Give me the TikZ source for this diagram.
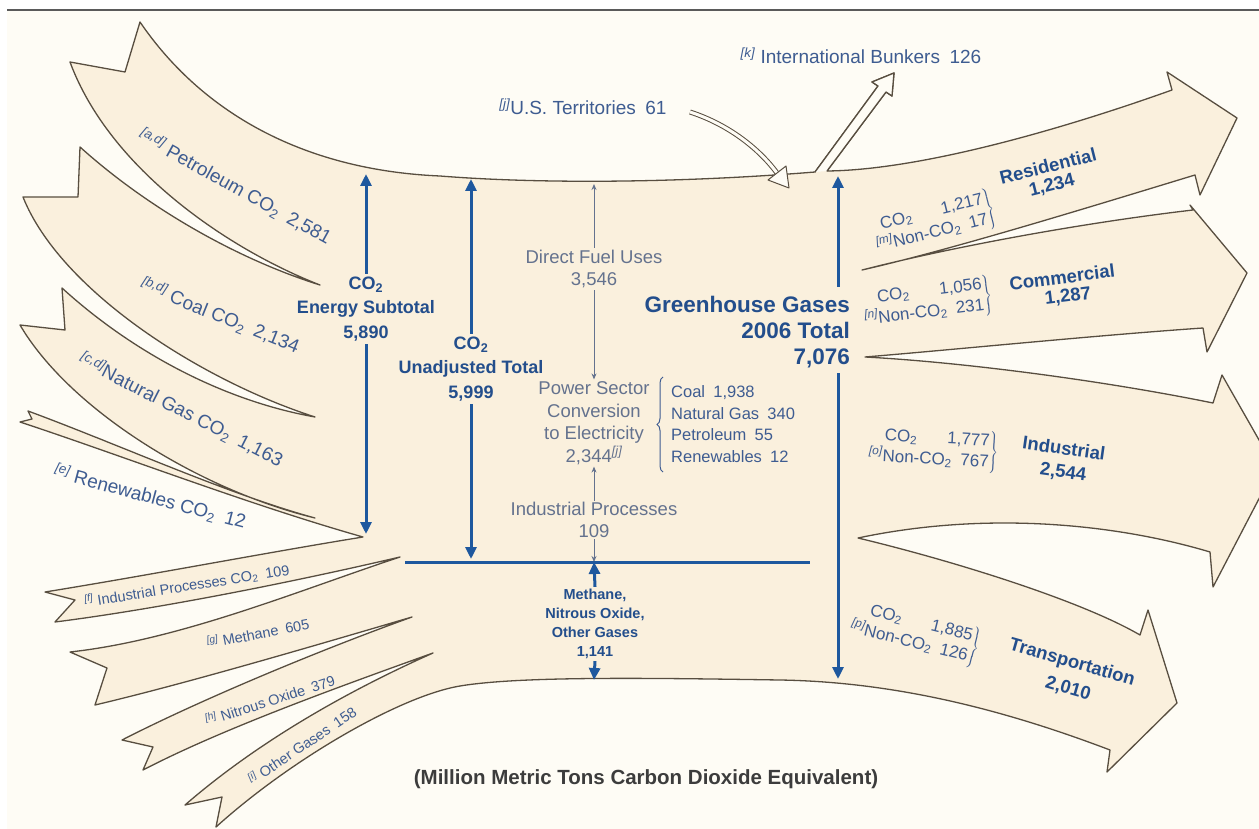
\documentclass[tikz,border=0pt]{standalone}
\usepackage{fontspec}
\setmainfont{Liberation Sans}
\usetikzlibrary{arrows.meta,decorations.pathreplacing}
\definecolor{bg}{RGB}{254,252,245}
\definecolor{band}{RGB}{250,240,221}
\definecolor{edge}{RGB}{88,78,64}
\definecolor{lbl}{RGB}{62,92,145}
\definecolor{boldb}{RGB}{35,78,140}
\definecolor{grayb}{RGB}{100,114,142}
\definecolor{arr}{RGB}{30,88,158}
\definecolor{dk}{RGB}{60,60,60}
\definecolor{frame}{RGB}{90,90,90}
\newcommand{\cotwo}{CO\textsubscript{2}}
\newcommand{\fnote}[1]{\textsuperscript{\itshape[#1]}}
\newcommand{\rowblock}[3]{$\left.\begin{tabular}{@{}r@{}}\cotwo\hspace{30pt}#1\\ \llap{\fnote{#3}}Non-\cotwo\enspace #2\end{tabular}\right\}$}
\begin{document}
\begin{tikzpicture}[x=1pt,y=-1pt,
  lbl/.style={text=lbl, inner sep=1pt, font=\fontsize{19}{23}\selectfont},
  lblsm/.style={text=lbl, inner sep=1pt, font=\fontsize{14.5}{17}\selectfont},
  rrow/.style={text=lbl, inner sep=1pt, font=\fontsize{17}{20}\selectfont},
  rbold/.style={text=boldb, inner sep=1pt, font=\fontsize{18.5}{22}\selectfont\bfseries},
  ctr/.style={text=grayb, align=center, inner sep=2pt, font=\fontsize{18.5}{22.5}\selectfont},
  boldc/.style={text=boldb, align=center, inner sep=3pt, font=\fontsize{18}{24.5}\selectfont\bfseries},
  bigarr/.style={draw=arr, line width=3pt, -{Triangle[length=12pt,width=11pt]}},
  thinarr/.style={draw=grayb, line width=1pt, -{Stealth[length=6pt,width=5pt]}},
  brc/.style={draw=lbl, line width=1pt, decorate, decoration={brace, amplitude=5pt}},
  outline/.style={draw=edge, line width=1.3pt, line join=round}]
\useasboundingbox (0,0) rectangle (1259,829);
\clip (0,0) rectangle (1259,829);
\fill[white] (0,0) rectangle (1259,829);
\fill[bg] (7,11) rectangle (1259,829);
\draw[draw=frame, line width=1.5pt] (7,10) -- (1259,10);

% main flow body
\path[fill=band, outline] (140,22)
 .. controls (200,110) and (300,170) .. (440,176)
 .. controls (540,184) and (680,183) .. (815,172)
 -- (878,86) -- (872,82) -- (894,73) -- (892,96) -- (886,92) -- (827,171)
 .. controls (920,170) and (1060,130) .. (1172,90)
 -- (1167,72) -- (1237,118) -- (1200,195) -- (1195,175)
 .. controls (1080,210) and (950,250) .. (862,270)
 .. controls (960,245) and (1090,222) .. (1193,210)
 -- (1190,205) -- (1247,273) -- (1207,352) -- (1203,328)
 .. controls (1100,335) and (950,350) .. (865,357)
 .. controls (960,362) and (1100,380) .. (1213,403)
 -- (1222,375) -- (1275,468) -- (1213,587) -- (1210,552)
 .. controls (1120,525) and (990,510) .. (858,538)
 .. controls (950,560) and (1080,600) .. (1140,635)
 -- (1148,610) -- (1177,703) -- (1107,772) -- (1110,750)
 .. controls (1010,712) and (900,682) .. (780,680)
 .. controls (650,678) and (520,676) .. (460,686)
 .. controls (400,696) and (290,760) .. (216,827)
 -- (222,797) -- (185,805)
 .. controls (260,740) and (350,690) .. (433,653)
 .. controls (330,690) and (220,730) .. (143,770)
 -- (153,747) -- (122,740)
 .. controls (200,700) and (320,650) .. (412,617)
 .. controls (300,650) and (180,685) .. (95,705)
 -- (107,668) -- (70,652)
 .. controls (180,640) and (300,590) .. (400,557)
 .. controls (280,585) and (150,610) .. (55,622)
 -- (75,600) -- (45,592)
 .. controls (150,575) and (270,552) .. (363,537)
 .. controls (250,505) and (120,455) .. (20,422)
 -- (32,419) -- (28,411)
 .. controls (120,445) and (230,495) .. (315,518)
 .. controls (200,490) and (70,410) .. (20,325)
 -- (65,330) -- (62,288)
 .. controls (130,350) and (220,400) .. (315,417)
 .. controls (200,380) and (60,290) .. (23,197)
 -- (78,197) -- (80,147)
 .. controls (150,210) and (240,260) .. (320,285)
 .. controls (230,250) and (110,170) .. (70,62)
 -- (125,72) -- cycle;

% bunkers arrow interior
\fill[bg] (815,172) -- (878,86) -- (872,82) -- (894,73) -- (892,96) -- (886,92) -- (827,171) -- cycle;
\draw[outline] (815,172) -- (878,86) -- (872,82) -- (894,73) -- (892,96) -- (886,92) -- (827,171);

% top labels
\node[lbl] (bunk) at (861,56) {\fnote{k} International Bunkers\enspace 126};
\node[lbl] (terr) at (583,107) {\fnote{j}U.S. Territories\enspace 61};
\coordinate (terrS) at (690,112);
\coordinate (terrE) at (777,173);
\draw[draw=edge, line width=1pt, double=bg, double distance=3pt] (terrS) .. controls (730,125) and (760,150) .. (terrE);
\filldraw[fill=bg, draw=edge, line width=1pt, line join=round] (768,180) -- (789,188) -- (786,166) -- cycle;

% left band labels
\node[lbl, rotate=-29] (petl) at (235,187) {\fnote{a,d} Petroleum \cotwo\enspace 2,581};
\node[lbl, rotate=-22] (coall) at (220,316) {\fnote{b,d} Coal \cotwo\enspace 2,134};
\node[lbl, rotate=-27] (ngl) at (181,410) {\fnote{c,d}Natural Gas \cotwo\enspace 1,163};
\node[lbl, rotate=-15] (renl) at (150,497) {\fnote{e} Renewables \cotwo\enspace 12};
\node[lblsm, rotate=9] (ipl) at (187,586) {\fnote{f} Industrial Processes \cotwo\enspace 109};
\node[lblsm, rotate=11] (mel) at (258,633) {\fnote{g} Methane\enspace 605};
\node[lblsm, rotate=18] (nol) at (270,700) {\fnote{h} Nitrous Oxide\enspace 379};
\node[lblsm, rotate=34] (ogl) at (302,745) {\fnote{i} Other Gases\enspace 158};

% energy subtotal
\node[boldc] (esub) at (366,309) {\cotwo\\Energy Subtotal\\5,890};
\coordinate (esubT) at (366,174);
\coordinate (esubB) at (366,534);
\draw[bigarr] (esub.north) -- (esubT);
\draw[bigarr] (esub.south) -- (esubB);

% unadjusted total
\node[boldc] (unadj) at (471,369) {\cotwo\\Unadjusted Total\\5,999};
\coordinate (unT) at (471,179);
\coordinate (unB) at (471,559);
\draw[bigarr] (unadj.north) -- (unT);
\draw[bigarr] (unadj.south) -- (unB);

% centre column
\node[ctr] (dfu) at (594,269) {Direct Fuel Uses\\3,546};
\coordinate (dfuT) at (594,184);
\draw[thinarr] (dfu.north) -- (dfuT);
\node[ctr] (ps) at (594,423) {Power Sector\\Conversion\\to Electricity\\2,344\fnote{j}};
\draw[thinarr] (dfu.south) -- (ps.north);
\node[text=lbl, align=left, anchor=west, inner sep=0pt, font=\fontsize{16.5}{21.5}\selectfont] (pl) at (671,424) {Coal\enspace 1,938\\Natural Gas\enspace 340\\Petroleum\enspace 55\\Renewables\enspace 12};
\coordinate (brT) at (663,377);
\coordinate (brB) at (663,472);
\draw[brc, decoration={brace, amplitude=6pt}] (brB) -- (brT);
\node[ctr, inner sep=1pt] (ip) at (594,520) {Industrial Processes\\109};
\draw[thinarr] (ip.north) -- (ps.south);
\coordinate (hmid) at (594,562);
\coordinate (hL) at (405,562);
\coordinate (hR) at (810,562);
\draw[thinarr] (ip.south) -- (hmid);
\draw[draw=arr, line width=3pt] (hL) -- (hR);

\node[text=boldb, align=center, inner sep=2pt, font=\fontsize{14.5}{19}\selectfont\bfseries] (meth) at (595,624) {Methane,\\Nitrous Oxide,\\Other Gases\\1,141};
\coordinate (mbot) at (594,680);
\draw[bigarr] (meth.north) -- (hmid);
\draw[bigarr] (meth.south) -- (mbot);

% greenhouse total
\node[text=boldb, align=right, anchor=east, inner sep=0pt, font=\fontsize{22.5}{26}\selectfont\bfseries] (ghg) at (850,332) {Greenhouse Gases\\2006 Total\\7,076};
\coordinate (gT) at (838,176);
\coordinate (gA) at (838,287);
\coordinate (gB) at (838,373);
\coordinate (gBot) at (838,679);
\draw[bigarr] (gA) -- (gT);
\draw[bigarr] (gB) -- (gBot);

% sector labels
\node[rrow, rotate=14] (resrows) at (938,222) {\rowblock{1,217}{17}{m}};
\node[rbold, rotate=14] (resname) at (1048,166) {Residential};
\node[rbold, rotate=14] (resval) at (1052,186) {1,234};

\node[rrow, rotate=7] (comrows) at (934,302) {\rowblock{1,056}{231}{n}};
\node[rbold, rotate=7] (comname) at (1062,277) {Commercial};
\node[rbold, rotate=7] (comval) at (1068,297) {1,287};

\node[rrow, rotate=-3] (indrows) at (940,450) {\rowblock{1,777}{767}{o}};
\node[rbold, rotate=-8] (indname) at (1064,448) {Industrial};
\node[rbold, rotate=-8] (indval) at (1063,473) {2,544};

\node[rrow, rotate=-14] (trarows) at (922,635) {\rowblock{1,885}{126}{p}};
\node[rbold, rotate=-16] (traname) at (1072,663) {Transportation};
\node[rbold, rotate=-16] (traval) at (1068,689) {2,010};

% units
\node[text=dk, inner sep=0pt, font=\fontsize{20.5}{24}\selectfont\bfseries] (unit) at (646,779) {(Million Metric Tons Carbon Dioxide Equivalent)};
\end{tikzpicture}
\end{document}
